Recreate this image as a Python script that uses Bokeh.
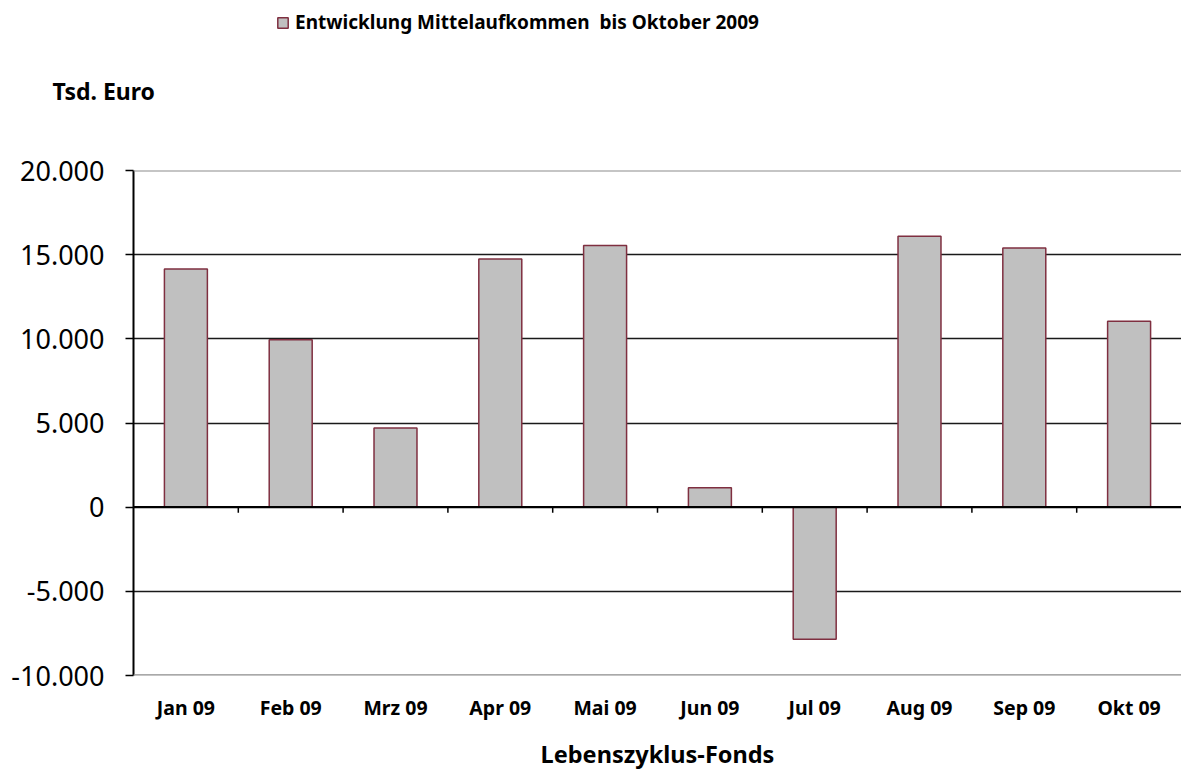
from bokeh.plotting import figure
from bokeh.models import (Range1d, FixedTicker, Span, Legend, LegendItem,
                          ColumnDataSource, Label)
from bokeh.layouts import column
from bokeh.embed import file_html
from bokeh.resources import INLINE

# ---- data ----
months = ["Jan 09", "Feb 09", "Mrz 09", "Apr 09", "Mai 09",
          "Jun 09", "Jul 09", "Aug 09", "Sep 09", "Okt 09"]
mittelaufkommen = [14150, 9950, 4700, 14750, 15550, 1150, -7850, 16100, 15400, 11050]
y_ticks = [-10000, -5000, 0, 5000, 10000, 15000, 20000]
y_tick_labels = ["-10.000", "-5.000", "0", "5.000", "10.000", "15.000", "20.000"]
series_name = "Entwicklung Mittelaufkommen  bis Oktober 2009"
y_unit = "Tsd. Euro"
x_title = "Lebenszyklus-Fonds"

FONT = "Noto Sans"
BAR_FILL = "#C0C0C0"
BAR_LINE = "#7F2F40"
n = len(months)
centers = [i + 0.5 for i in range(n)]

W, H = 1181, 773
HEAD_H = 110

# ---------------- header (legend + unit) ----------------
head = figure(width=W, height=HEAD_H, output_backend="svg", toolbar_location=None,
              x_range=Range1d(0, 1), y_range=Range1d(1, 2),
              x_axis_type=None, y_axis_type=None,
              min_border=0, min_border_left=0, min_border_right=0,
              min_border_top=0, min_border_bottom=0)
head.frame_align = False
head.outline_line_color = None
head.grid.visible = False
head.background_fill_color = "white"
head.border_fill_color = "white"
# legend swatch source: same style as the bars, zero-size and outside the header's view
swatch = head.vbar(x=[0], top=[0], bottom=0, width=0, fill_color=BAR_FILL,
                   line_color=BAR_LINE, line_width=1.5)
legend = Legend(items=[LegendItem(label=series_name, renderers=[swatch])],
                location=(276, 75), orientation="horizontal",
                label_text_font=FONT, label_text_font_style="bold",
                label_text_font_size="19px", label_text_color="black",
                glyph_width=13, glyph_height=13,
                label_standoff=6, padding=0, margin=0, spacing=0,
                border_line_color=None, background_fill_alpha=0)
head.add_layout(legend)
head.add_layout(Label(x=52, y=20, x_units="screen", y_units="screen", text=y_unit,
                      text_font=FONT, text_font_style="bold", text_font_size="23px",
                      text_color="black", text_baseline="alphabetic"))

# ---------------- main chart ----------------
p = figure(width=W, height=H - HEAD_H, output_backend="svg", toolbar_location=None,
           x_range=Range1d(0, n), y_range=Range1d(y_ticks[0], y_ticks[-1]),
           min_border_left=133, min_border_right=0, min_border_top=170 - HEAD_H,
           min_border_bottom=98)
p.frame_align = False
p.outline_line_color = None
p.background_fill_color = "white"
p.border_fill_color = "white"

# grid
p.xgrid.visible = False
p.ygrid.ticker = FixedTicker(ticks=[t for t in y_ticks if t not in (0, y_ticks[0], y_ticks[-1])])
p.ygrid.grid_line_color = "#1a1a1a"
p.ygrid.grid_line_width = 1.5

p.add_layout(Span(location=y_ticks[-1], dimension="width", line_color="#8c8c8c", line_width=2))
p.add_layout(Span(location=y_ticks[0], dimension="width", line_color="#8c8c8c", line_width=2.5))

# bars
src = ColumnDataSource(dict(x=centers, top=mittelaufkommen, name=months))
p.vbar(x="x", top="top", bottom=0, width=0.41, source=src,
       fill_color=BAR_FILL, line_color=BAR_LINE, line_width=1.5)

# zero line + category ticks
p.add_layout(Span(location=0, dimension="width", line_color="black", line_width=2.2))
bounds = list(range(1, n))
p.segment(x0=bounds, x1=bounds, y0=[0] * len(bounds), y1=[-330] * len(bounds),
          line_color="black", line_width=1.5)

# y axis
ya = p.yaxis[0]
ya.ticker = FixedTicker(ticks=y_ticks)
ya.major_label_overrides = {t: l for t, l in zip(y_ticks, y_tick_labels)}
ya.major_label_text_font = FONT
ya.major_label_text_font_size = "27px"
ya.major_label_text_color = "black"
ya.axis_line_color = "black"
ya.axis_line_width = 2
ya.major_tick_line_color = "black"
ya.major_tick_line_width = 1.5
ya.major_tick_out = 8
ya.major_tick_in = 0
ya.minor_tick_line_color = None
ya.major_label_standoff = 21

# x axis
xa = p.xaxis[0]
xa.ticker = FixedTicker(ticks=centers)
xa.major_label_overrides = {c: m for c, m in zip(centers, months)}
xa.major_label_text_font = FONT
xa.major_label_text_font_style = "bold"
xa.major_label_text_font_size = "19.5px"
xa.major_label_text_color = "black"
xa.axis_line_color = None
xa.major_tick_line_color = None
xa.minor_tick_line_color = None
xa.major_label_standoff = 12
xa.axis_label = x_title
xa.axis_label_text_font = FONT
xa.axis_label_text_font_style = "bold"
xa.axis_label_text_font_size = "23.5px"
xa.axis_label_text_color = "black"
xa.axis_label_standoff = 14

layout = column(head, p, spacing=0)
open("out.html", "w").write(file_html(layout, INLINE))
